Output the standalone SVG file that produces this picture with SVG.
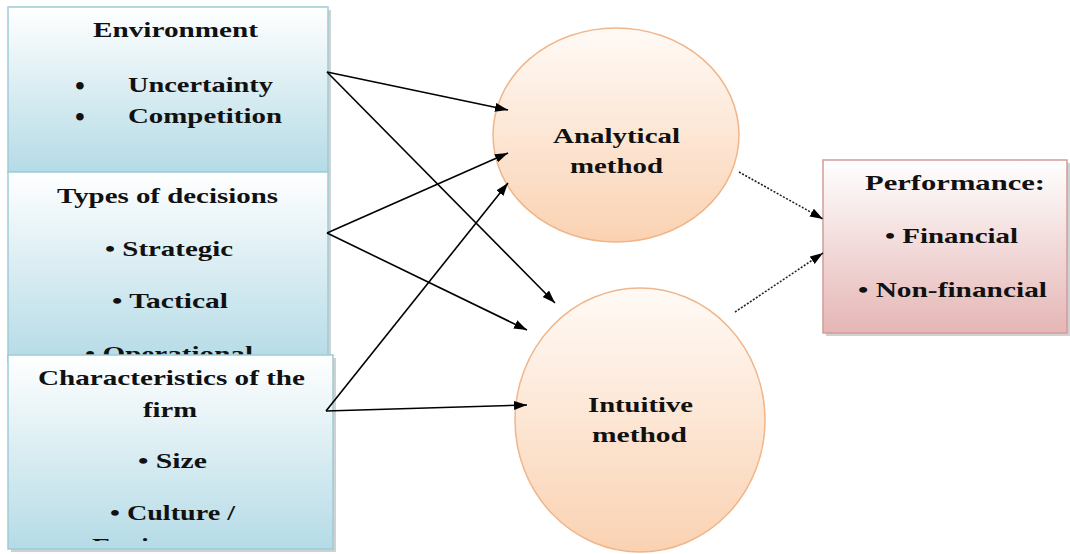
<svg xmlns="http://www.w3.org/2000/svg" width="1070" height="554" viewBox="0 0 1070 554">
<defs>
<linearGradient id="gBlue" x1="0" y1="0" x2="0" y2="1">
<stop offset="0" stop-color="#ffffff"/>
<stop offset="1" stop-color="#b5dbe6"/>
</linearGradient>
<linearGradient id="gPeach" x1="0" y1="0" x2="0" y2="1">
<stop offset="0" stop-color="#fffaf6"/>
<stop offset="1" stop-color="#fad2b2"/>
</linearGradient>
<linearGradient id="gPink" x1="0" y1="0" x2="0" y2="1">
<stop offset="0" stop-color="#ffffff"/>
<stop offset="1" stop-color="#e5b6b5"/>
</linearGradient>
<marker id="ah" markerUnits="userSpaceOnUse" markerWidth="14" markerHeight="10" refX="13" refY="4.5" orient="auto">
<path d="M0,0 L13,4.5 L0,9 z" fill="#000"/>
</marker>
<clipPath id="clip3"><rect x="8" y="355" width="325" height="186"/></clipPath>
</defs>
<style>
text{font-family:"Liberation Serif","Times New Roman",serif;font-weight:bold;font-size:21px;fill:#111}
.bul{font-size:28px}
.box{fill:url(#gBlue);stroke:#9dcbd8;stroke-width:1.5}
.shadow{fill:#9a9a9a;opacity:0.45}
.circ{fill:url(#gPeach);stroke:#f0b68a;stroke-width:1.5}
.perf{fill:url(#gPink);stroke:#d39c9b;stroke-width:1.5}
.ln{stroke:#000;stroke-width:1.6;fill:none;marker-end:url(#ah)}
.dot{stroke:#222;stroke-width:1.6;fill:none;stroke-dasharray:2 1.6;marker-end:url(#ah)}
</style>
<rect width="1070" height="554" fill="#fff"/>
<g id="environment">
<rect class="shadow" x="11" y="10" width="320" height="165"/>
<rect class="box" x="8" y="7" width="320" height="165"/>
<text x="93" y="37" textLength="165" lengthAdjust="spacingAndGlyphs">Environment</text>
<text class="bul" x="75" y="95">•</text>
<text x="128" y="92" textLength="145" lengthAdjust="spacingAndGlyphs">Uncertainty</text>
<text class="bul" x="75" y="126">•</text>
<text x="128" y="123" textLength="154" lengthAdjust="spacingAndGlyphs">Competition</text>
</g>
<g id="types-of-decisions">
<rect class="shadow" x="11" y="175" width="320" height="190"/>
<rect class="box" x="8" y="172" width="320" height="190"/>
<text x="57" y="203" textLength="221" lengthAdjust="spacingAndGlyphs">Types of decisions</text>
<text x="105" y="256" textLength="128" lengthAdjust="spacingAndGlyphs">• Strategic</text>
<text x="112" y="308" textLength="116" lengthAdjust="spacingAndGlyphs">• Tactical</text>
<text x="85" y="361" textLength="168" lengthAdjust="spacingAndGlyphs">• Operational</text>
</g>
<g id="characteristics">
<rect class="shadow" x="11" y="358" width="325" height="194"/>
<rect class="box" x="8" y="355" width="325" height="194"/>
<text x="38" y="385" textLength="267" lengthAdjust="spacingAndGlyphs">Characteristics of the</text>
<text x="143" y="417" textLength="54" lengthAdjust="spacingAndGlyphs">firm</text>
<text x="138" y="468" textLength="69" lengthAdjust="spacingAndGlyphs">• Size</text>
<text x="110" y="520" textLength="125" lengthAdjust="spacingAndGlyphs">• Culture /</text>
<text x="92" y="553" textLength="161" lengthAdjust="spacingAndGlyphs" clip-path="url(#clip3)">Environment</text>
</g>
<g id="analytical">
<ellipse class="circ" cx="616" cy="135" rx="123" ry="107"/>
<text x="553" y="143" textLength="127" lengthAdjust="spacingAndGlyphs">Analytical</text>
<text x="570" y="173" textLength="93" lengthAdjust="spacingAndGlyphs">method</text>
</g>
<g id="intuitive">
<ellipse class="circ" cx="640" cy="420" rx="125" ry="132"/>
<text x="588" y="412" textLength="105" lengthAdjust="spacingAndGlyphs">Intuitive</text>
<text x="592" y="442" textLength="95" lengthAdjust="spacingAndGlyphs">method</text>
</g>
<g id="performance">
<rect class="shadow" x="826" y="163" width="244" height="173"/>
<rect class="perf" x="823" y="160" width="244" height="173"/>
<text x="865" y="190" textLength="180" lengthAdjust="spacingAndGlyphs">Performance:</text>
<text x="885" y="243" textLength="133" lengthAdjust="spacingAndGlyphs">• Financial</text>
<text x="858" y="297" textLength="189" lengthAdjust="spacingAndGlyphs">• Non-financial</text>
</g>
<g id="connectors">
<line class="ln" x1="327" y1="72" x2="508" y2="110"/>
<line class="ln" x1="327" y1="72" x2="555" y2="303"/>
<line class="ln" x1="327" y1="233" x2="508" y2="153"/>
<line class="ln" x1="327" y1="233" x2="527" y2="330"/>
<line class="ln" x1="326" y1="411" x2="508" y2="183"/>
<line class="ln" x1="326" y1="411" x2="527" y2="405"/>
<line class="dot" x1="739" y1="172" x2="823" y2="219"/>
<line class="dot" x1="735" y1="312" x2="823" y2="253"/>
</g>
</svg>
